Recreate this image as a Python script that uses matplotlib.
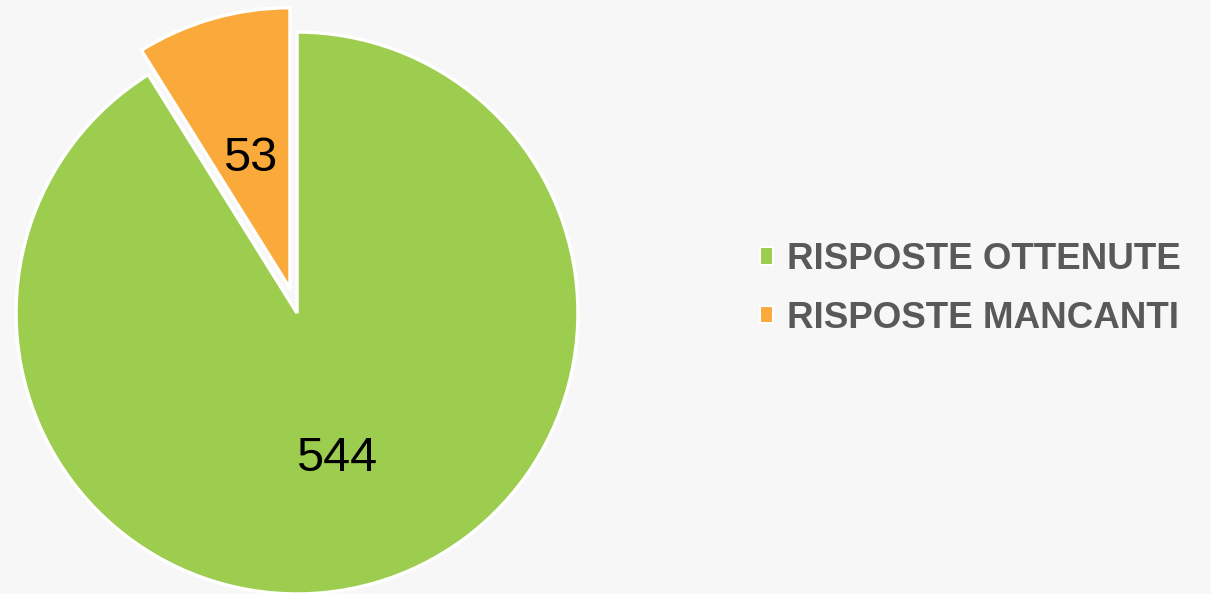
import matplotlib.pyplot as plt
import matplotlib.transforms as mtransforms
from matplotlib.patches import Patch

plt.rcParams['font.family'] = ['Liberation Sans', 'DejaVu Sans']

# data
labels = ["RISPOSTE OTTENUTE", "RISPOSTE MANCANTI"]
values = [544, 53]
colors = ["#9DCD4E", "#FAA93B"]
explode = [0, 0.09]

W, H = 1211, 594
fig = plt.figure(figsize=(W / 100, H / 100), dpi=100)
fig.patch.set_facecolor('#F7F7F7')

# pie centre (297, 313) px, radius 281 px
cx, cy, r = 297, 313, 281
ax = fig.add_axes([(cx - r) / W, (H - cy - r) / H, 2 * r / W, 2 * r / H])
ax.set_facecolor('none')

total = sum(values)
wedges, texts, autotexts = ax.pie(
    values, colors=colors, explode=explode, startangle=90 + 360 * values[1] / total,
    counterclock=True, radius=1,
    autopct=lambda p: f"{round(p * total / 100):d}", pctdistance=0.51,
    wedgeprops=dict(edgecolor='white', linewidth=2.5),
    textprops=dict(fontsize=35, color='black'),
)
for w in wedges:
    w.set_clip_on(False)
# nudge the value labels down a little
for t in autotexts:
    t.set_transform(mtransforms.offset_copy(ax.transData, fig=fig, x=0, y=-8, units='dots'))
ax.set_xlim(-1, 1)
ax.set_ylim(-1, 1)
ax.set_aspect('equal')
ax.axis('off')

handles = [Patch(facecolor=c, edgecolor='white', linewidth=1.5) for c in colors]
leg = fig.legend(handles, labels, loc='center left', bbox_to_anchor=(727 / W, 1 - 289 / H),
                 frameon=False, handlelength=0.36, handleheight=0.36, handletextpad=0.38,
                 labelspacing=0.63, prop=dict(size=26.5, weight='bold'))
for t in leg.get_texts():
    t.set_color('#595959')

fig.savefig('out.png', dpi=100, facecolor=fig.get_facecolor())
